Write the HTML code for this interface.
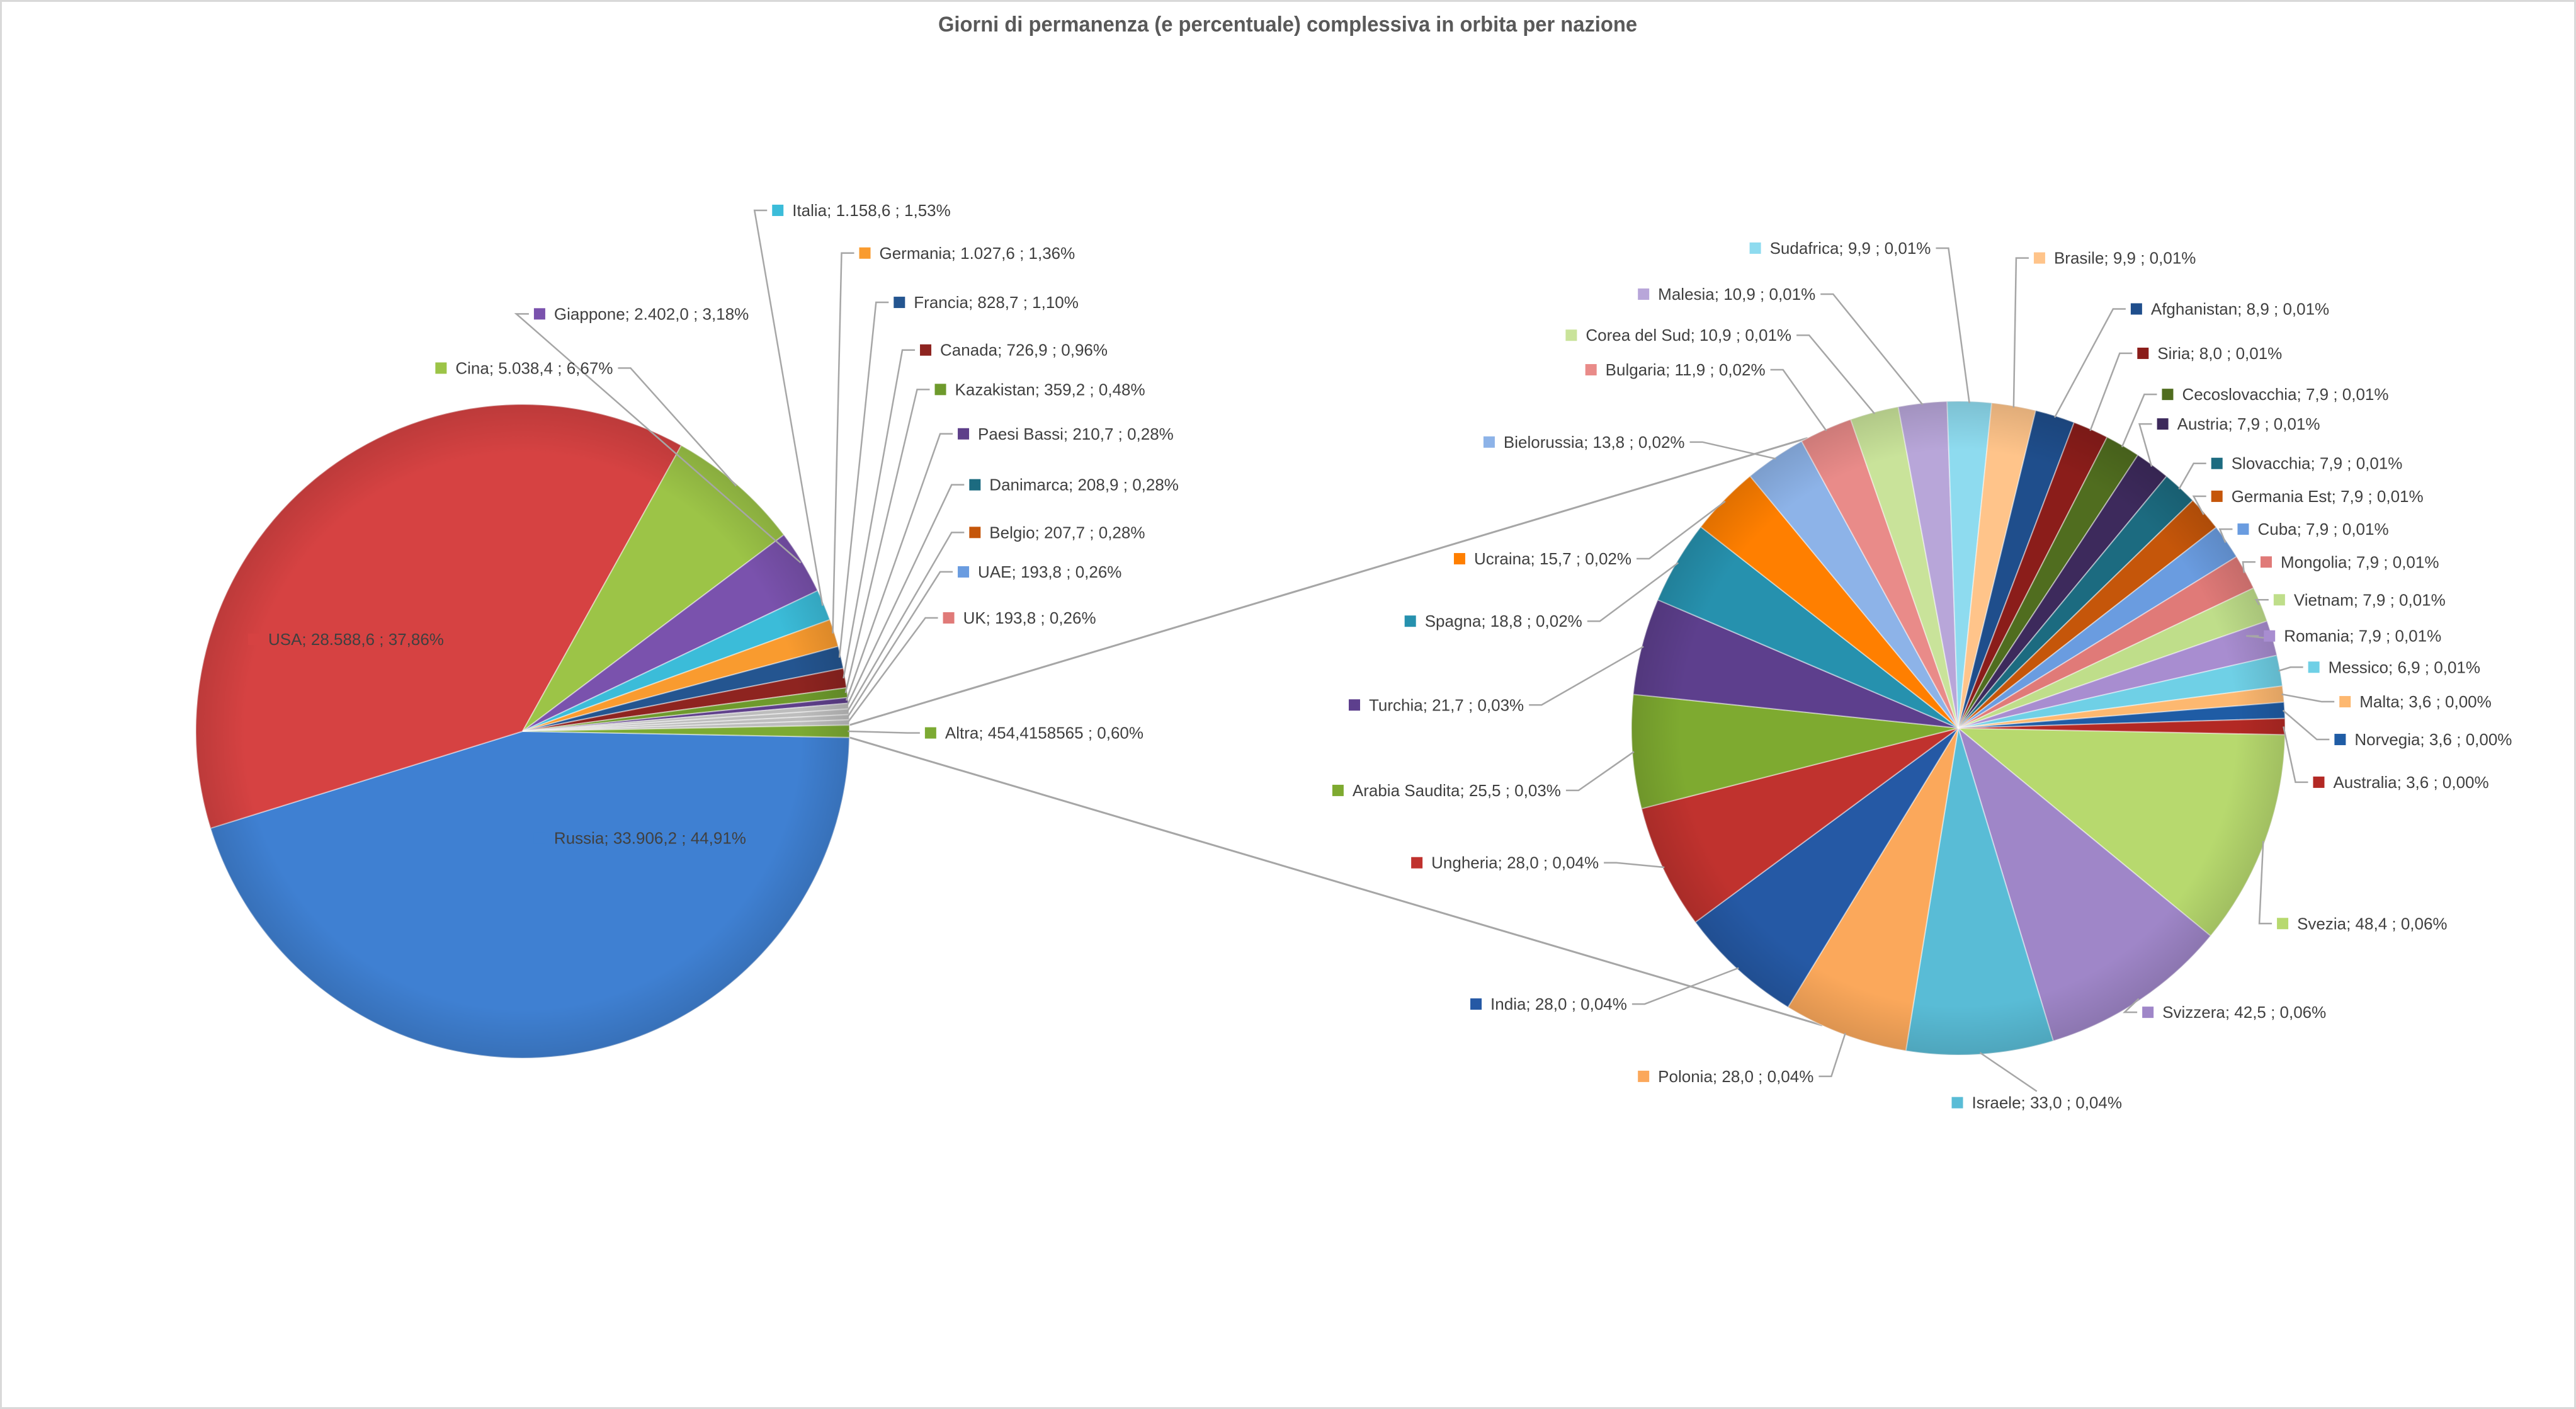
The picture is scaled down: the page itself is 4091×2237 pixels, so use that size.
<!DOCTYPE html>
<html><head><meta charset="utf-8"><style>
html,body{margin:0;padding:0;background:#fff;}
svg{display:block;}
text{font-family:"Liberation Sans",sans-serif;}
</style></head><body>
<svg id="chart" width="4091" height="2237" viewBox="0 0 4091 2237" xmlns="http://www.w3.org/2000/svg">
<rect x="1.5" y="1.5" width="4088" height="2234" fill="#fff" stroke="#d9d9d9" stroke-width="3"/>
<text x="2045" y="50" text-anchor="middle" font-size="34" font-weight="bold" fill="#595959" textLength="1110" lengthAdjust="spacingAndGlyphs">Giorni di permanenza (e percentuale) complessiva in orbita per nazione</text>
<g id="connectors"></g>
<g id="pie1"></g>
<g id="pie2"></g>
<g id="leaders"></g>
<g id="labels"></g>
</svg>
<script>
// ---- data: main pie ----
const mainNames = ["Russia","USA","Cina","Giappone","Italia","Germania","Francia","Canada","Kazakistan","Paesi Bassi","Danimarca","Belgio","UAE","UK","Altra"];
const mainValues = [33906.2,28588.6,5038.4,2402.0,1158.6,1027.6,828.7,726.9,359.2,210.7,208.9,207.7,193.8,193.8,454.4158565];
const mainValueLabels = ["33.906,2","28.588,6","5.038,4","2.402,0","1.158,6","1.027,6","828,7","726,9","359,2","210,7","208,9","207,7","193,8","193,8","454,4158565"];
const mainPctLabels = ["44,91%","37,86%","6,67%","3,18%","1,53%","1,36%","1,10%","0,96%","0,48%","0,28%","0,28%","0,28%","0,26%","0,26%","0,60%"];
// ---- data: secondary pie ----
const subNames = ["Svezia","Svizzera","Israele","Polonia","India","Ungheria","Arabia Saudita","Turchia","Spagna","Ucraina","Bielorussia","Bulgaria","Corea del Sud","Malesia","Sudafrica","Brasile","Afghanistan","Siria","Cecoslovacchia","Austria","Slovacchia","Germania Est","Cuba","Mongolia","Vietnam","Romania","Messico","Malta","Norvegia","Australia"];
const subValues = [48.4,42.5,33.0,28.0,28.0,28.0,25.5,21.7,18.8,15.7,13.8,11.9,10.9,10.9,9.9,9.9,8.9,8.0,7.9,7.9,7.9,7.9,7.9,7.9,7.9,7.9,6.9,3.6,3.6,3.6];
const subValueLabels = ["48,4","42,5","33,0","28,0","28,0","28,0","25,5","21,7","18,8","15,7","13,8","11,9","10,9","10,9","9,9","9,9","8,9","8,0","7,9","7,9","7,9","7,9","7,9","7,9","7,9","7,9","6,9","3,6","3,6","3,6"];
const subPctLabels = ["0,06%","0,06%","0,04%","0,04%","0,04%","0,04%","0,03%","0,03%","0,02%","0,02%","0,02%","0,02%","0,01%","0,01%","0,01%","0,01%","0,01%","0,01%","0,01%","0,01%","0,01%","0,01%","0,01%","0,01%","0,01%","0,01%","0,01%","0,00%","0,00%","0,00%"];

// ---- styles / layout (not data) ----
const mainColors = ["#3f80d2","#d64242","#9cc447","#7a52ad","#3bbcd9","#f99b2f","#245590","#8e2420","#6e9a2c","#5e3f8a","#bdbdbd","#bdbdbd","#bdbdbd","#bdbdbd","#7caa33"];
const mainSwatch = ["#3f80d2","#d64242","#9cc447","#7a52ad","#3bbcd9","#f99b2f","#245590","#8e2420","#6e9a2c","#5e3f8a","#1c6b80","#c5560a","#6a9ce0","#e07a78","#7caa33"];
const subColors = ["#b7d96e","#9f86c8","#59bcd6","#fba85b","#2559a5","#c0322e","#7eaa30","#5d3f8d","#2691ae","#ff7f00","#8db3e8","#e98b89","#c9e39a","#b8a6d9","#8edbef","#ffc48a","#1f4e8c","#8b1d1a","#506d1f","#3d2a5c","#1c6b80","#c5560a","#6a9ce0","#e07a78","#bfde8a","#a88dd0","#6fd0e6","#fdb870","#1f5ca5","#b32924"];
const S = 2.609;
const mainPos = [[325,510],[151,389],[265,224],[325,191],[470,128],[523,154],[544,184],[560,213],[569,237],[583,264],[590,295],[590,324],[583,348],[574,376],[563,446]];
const subPos = [[1386,562],[1304,616],[1188,671],[997,655],[895,611],[859,525],[811,481],[821,429],[855,378],[885,340],[903,269],[965,225],[953,204],[997,179],[1065,151],[1238,157],[1297,188],[1301,215],[1316,240],[1313,258],[1346,282],[1346,302],[1362,322],[1376,342],[1384,365],[1378,387],[1405,406],[1424,427],[1421,450],[1408,476]];
const C1 = {x:830,y:1161,r:519}, C2 = {x:3110,y:1156,r:519};
const NS = "http://www.w3.org/2000/svg";

function pt(c, a, r){ return [c.x + r*Math.cos(a), c.y + r*Math.sin(a)]; }
function arcPath(c, a0, a1){
  const p0 = pt(c,a0,c.r), p1 = pt(c,a1,c.r);
  const large = (a1-a0) > Math.PI ? 1 : 0;
  return `M${c.x},${c.y} L${p0[0]},${p0[1]} A${c.r},${c.r} 0 ${large} 1 ${p1[0]},${p1[1]} Z`;
}
function angles(values, start){
  const tot = values.reduce((a,b)=>a+b,0);
  let a = start; const out = [];
  for (const v of values){ const span = v/tot*2*Math.PI; out.push([a, a+span]); a += span; }
  return out;
}
function drawPie(gid, c, values, colors, names, start){
  const g = document.getElementById(gid);
  const angs = angles(values, start);
  angs.forEach((an,i)=>{
    const p = document.createElementNS(NS,"path");
    p.setAttribute("d", arcPath(c, an[0], an[1]));
    p.setAttribute("fill", colors[i]);
    p.setAttribute("stroke", "rgba(255,255,255,0.45)");
    p.setAttribute("stroke-width", "2");
    
    
    g.appendChild(p);
  });
  const sh = document.createElementNS(NS,"circle");
  sh.setAttribute("cx", c.x); sh.setAttribute("cy", c.y); sh.setAttribute("r", c.r);
  sh.setAttribute("fill", "url(#shade)");
  sh.setAttribute("pointer-events","none");
  
  
  g.appendChild(sh);
  return angs;
}
const defs = document.createElementNS(NS,"defs");
defs.innerHTML = '<radialGradient id="shade" cx="50%" cy="50%" r="50%"><stop offset="0.85" stop-color="#000" stop-opacity="0"/><stop offset="1" stop-color="#000" stop-opacity="0.12"/></radialGradient>';
document.getElementById("chart").prepend(defs);

const mainTot = mainValues.reduce((a,b)=>a+b,0);
const altraSpan = mainValues[mainValues.length-1]/mainTot*2*Math.PI;
const mainAngs = drawPie("pie1", C1, mainValues, mainColors, mainNames, altraSpan/2);
const subAngs = drawPie("pie2", C2, subValues, subColors, subNames, 0.02);

const altraA = mainAngs[mainAngs.length-1];
const conn = document.getElementById("connectors");
[[altraA[0], -2.05],[altraA[1], 2.0]].forEach((pair,k)=>{
  const p0 = pt(C1, pair[0], C1.r);
  const p1 = pt(C2, pair[1], C2.r);
  const l = document.createElementNS(NS,"line");
  l.setAttribute("x1",p0[0]); l.setAttribute("y1",p0[1]);
  l.setAttribute("x2",p1[0]); l.setAttribute("y2",p1[1]);
  l.setAttribute("stroke","#a6a6a6"); l.setAttribute("stroke-width","3");
  
  
  conn.appendChild(l);
});

const labG = document.getElementById("labels");
const leadG = document.getElementById("leaders");
function drawLabels(c, names, vals, pcts, pos, swatches, angs, insideSet){
  names.forEach((n,i)=>{
    const sx = pos[i][0]*S, sy = pos[i][1]*S;
    const grp = document.createElementNS(NS,"g");
    
    
    const r = document.createElementNS(NS,"rect");
    r.setAttribute("x", sx); r.setAttribute("y", sy-9); r.setAttribute("width",18); r.setAttribute("height",18);
    r.setAttribute("fill", swatches[i]);
    
    
    grp.appendChild(r);
    const t = document.createElementNS(NS,"text");
    t.setAttribute("x", sx+32); t.setAttribute("y", sy+9);
    t.setAttribute("font-size","26"); t.setAttribute("fill","#404040");
    t.textContent = n + ";  " + vals[i] + " ; " + pcts[i];
    
    
    grp.appendChild(t);
    labG.appendChild(grp);
    if (insideSet.includes(i)) return;
    const mid = (angs[i][0]+angs[i][1])/2;
    const p0 = pt(c, mid, c.r*0.995);
    const tw = t.getComputedTextLength();
    let pts;
    if (sy > c.y + c.r*0.97 && Math.abs(sx + 16 + tw/2 - c.x) < 250) {
      const ax = sx + 16 + tw/2, ay = sy - 18;
      pts = `${p0[0]},${p0[1]} ${ax},${ay}`;
    } else {
      let ax, ay = sy;
      if (sx > c.x) { ax = sx - 8; } else { ax = sx + 32 + tw + 8; }
      const ex = sx > c.x ? ax - 20 : ax + 20;
      pts = `${p0[0]},${p0[1]} ${ex},${ay} ${ax},${ay}`;
    }
    const l = document.createElementNS(NS,"polyline");
    l.setAttribute("points", pts);
    l.setAttribute("fill","none"); l.setAttribute("stroke","#a6a6a6"); l.setAttribute("stroke-width","2.5");
    
    
    leadG.appendChild(l);
  });
}
drawLabels(C1, mainNames, mainValueLabels, mainPctLabels, mainPos, mainSwatch, mainAngs, [0,1]);
drawLabels(C2, subNames, subValueLabels, subPctLabels, subPos, subColors, subAngs, []);
</script>
</body></html>
